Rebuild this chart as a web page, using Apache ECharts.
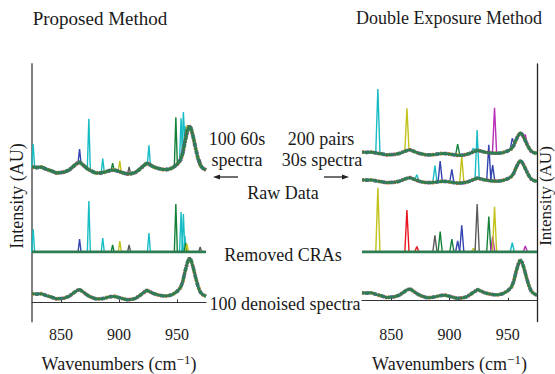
<!DOCTYPE html>
<html><head><meta charset="utf-8">
<script src="https://cdn.jsdelivr.net/npm/echarts@6/dist/echarts.min.js"></script>
<style>html,body{margin:0;padding:0;background:#fff}#c{width:555px;height:374px}</style>
</head><body><div id="c"></div>
<script>
// ---------- data ----------
const wavenumbers = [825,829,833,838,842,846,850,853,857,860,863,866,869,873,876,880,884,888,892,896,900,904,907,911,914,917,920,924,927,930,934,938,942,946,950,953,955,957,959,960.5,962,964,966,968,970,972,975];
const spectrum    = [10,9.5,10,7.5,6,4,4.5,5,7,10,13,15,12,8,6,4,4,5,6.5,7,5.5,4,3,3.5,4.5,7,10,14,12,10,8.5,7.5,7.5,9,12.5,17,24,36,46,51,49,40,29,19,12,9,7];
const tickLabels = [850, 900, 950];
// Proposed method: cosmic-ray spikes (position, height)
const leftSpikePos    = [826, 866, 874, 886, 894.5, 900.7, 908.7, 925.8, 949, 953.5, 955.5, 956.8, 957.5, 958.5, 970];
const leftSpikeHeight = [23, 13, 51, 14, 7, 11, 7, 19, 48, 40, 38, 16, 9, 8, 5];
// Double exposure method: spikes (position, height, which raw trace: 0 upper, 1 lower)
const rightSpikePos    = [838.6, 863.5, 872, 887.5, 892, 902, 907, 910.5, 920.5, 923.7, 933.7, 937, 938.6, 953.8, 965];
const rightSpikeHeight = [139, 91, 12, 36, 44, 28, 24, 58, 8, 104, 77, 34, 98, 20, 13];
const rightSpikeRow    = [0, 0, 1, 1, 1, 1, 0, 1, 0, 1, 1, 1, 0, 0, 0];

// ---------- styles ----------
const C = {cyan:'#17bcc4', blue:'#3344b0', green:'#14803a', yellow:'#c2c21a', gray:'#5a5a5a', red:'#e8141e', magenta:'#b82fb8'};
const leftSpikeColors = [C.cyan,C.blue,C.cyan,C.cyan,C.green,C.yellow,C.gray,C.cyan,C.green,C.cyan,C.cyan,C.cyan,C.green,C.yellow,C.gray];
const rightRawColors  = [C.cyan,C.yellow,C.cyan,C.cyan,C.blue,C.blue,C.green,C.yellow,C.cyan,C.cyan,C.blue,C.blue,C.magenta,C.blue,C.magenta];
const rightCraColors  = [C.yellow,C.red,C.red,C.gray,C.green,C.green,C.blue,C.blue,C.yellow,C.gray,C.green,C.magenta,C.yellow,C.cyan,C.magenta];
const FONT = 'Liberation Serif';
const TXT = '#1a1a1a';
const MAIN = '#2f7b52';

function interp(x){
  for(let i=0;i<wavenumbers.length-1;i++){
    if(x>=wavenumbers[i] && x<=wavenumbers[i+1]){
      const t=(x-wavenumbers[i])/(wavenumbers[i+1]-wavenumbers[i]);
      return spectrum[i]+t*(spectrum[i+1]-spectrum[i]);
    }
  }
  return x<wavenumbers[0]?spectrum[0]:spectrum[spectrum.length-1];
}
const specData = wavenumbers.map((w,i)=>[w,spectrum[i]]);

const series=[];
function spectrumLayers(idx, width){
  const under=[[C.red,[2,6],0],[C.blue,[2,6],3],[C.yellow,[2,7],1],[C.magenta,[1,8],5],[C.gray,[2,6],5]];
  under.forEach(u=>series.push({type:'line',xAxisIndex:idx,yAxisIndex:idx,data:specData,symbol:'none',silent:true,z:3,
    lineStyle:{color:u[0],width:width+0.9,type:u[1],dashOffset:u[2],opacity:0.8}}));
  series.push({type:'line',xAxisIndex:idx,yAxisIndex:idx,data:specData,symbol:'none',silent:true,z:4,
    lineStyle:{color:MAIN,width:width}});
}
function spike(idx,p,h,color,hw,onSpectrum){
  const b1=onSpectrum?interp(p-hw):0, b2=onSpectrum?interp(p+hw):0, top=(onSpectrum?interp(p):0)+h;
  series.push({type:'line',xAxisIndex:idx,yAxisIndex:idx,data:[[p-hw,b1],[p,top],[p+hw,b2]],symbol:'none',silent:true,z:2,
    lineStyle:{color:color,width:1.4}});
}
// left raw (grid 0)
leftSpikePos.forEach((p,i)=>spike(0,p,leftSpikeHeight[i],leftSpikeColors[i],1.3,true));
spectrumLayers(0,3);
// left CRA (grid 1)
leftSpikePos.forEach((p,i)=>spike(1,p,leftSpikeHeight[i],leftSpikeColors[i],1.3,false));
series.push({type:'line',xAxisIndex:1,yAxisIndex:1,data:wavenumbers.map(w=>[w,0]),symbol:'none',silent:true,z:5,lineStyle:{color:MAIN,width:3}});
// left denoised (grid 2)
spectrumLayers(2,2.8);
// right raw upper (grid 3) and lower (grid 4)
rightSpikePos.forEach((p,i)=>spike(rightSpikeRow[i]===0?3:4,p,rightSpikeHeight[i],rightRawColors[i],1.8,true));
spectrumLayers(3,2.8);
spectrumLayers(4,2.8);
// right CRA (grid 5)
rightSpikePos.forEach((p,i)=>spike(5,p,rightSpikeHeight[i],rightCraColors[i],1.8,false));
series.push({type:'line',xAxisIndex:5,yAxisIndex:5,data:wavenumbers.map(w=>[w,0]),symbol:'none',silent:true,z:5,lineStyle:{color:MAIN,width:3}});
// right denoised (grid 6)
spectrumLayers(6,2.8);

const L={left:32,width:174}, R={left:362,width:175};
const grids=[
  {...L,top:64,height:121},{...L,top:185,height:67},{...L,top:252,height:80},
  {...R,top:64,height:121},{...R,top:64,height:121},{...R,top:185,height:67},{...R,top:252,height:80}
];
const yr=[[-8,113],[0,67],[-22,58],[-61,200],[-1,260],[0,145],[-26,61]];
const xAxes=grids.map((g,i)=>{
  const bottom=(i===2||i===6);
  return {type:'value',gridIndex:i,min:825,max:975,splitLine:{show:false},
    axisLine:{show:bottom,lineStyle:{color:'#333',width:1.2}},
    axisTick:{show:bottom,inside:true,length:3,customValues:tickLabels,lineStyle:{color:'#333'}},
    axisLabel:{show:bottom,customValues:tickLabels,fontFamily:FONT,fontSize:16,color:TXT,margin:5},
    name:bottom?'Wavenumbers (cm{sup|−1})':'',nameLocation:'middle',nameGap:31,
    nameTextStyle:{fontFamily:FONT,fontSize:18,color:TXT,rich:{sup:{fontFamily:FONT,fontSize:13,verticalAlign:'bottom',padding:[0,0,10,0],color:TXT}}}};
});
const yAxes=grids.map((g,i)=>{
  const left=i<3, showLine=(i!==4);
  return {type:'value',gridIndex:i,min:yr[i][0],max:yr[i][1],position:left?'left':'right',
    splitLine:{show:false},axisTick:{show:false},axisLabel:{show:false},
    axisLine:{show:showLine,onZero:false,lineStyle:{color:left?'#808080':'#222',width:left?2:1.3}}};
});
function txt(x,y,s,extra,size){return Object.assign({type:'text',x:x,y:y,style:{text:s,fontFamily:FONT,fontSize:size||18,fill:TXT,align:'center',verticalAlign:'middle'},z:100},extra||{});}
const graphic=[
  txt(100,18,'Proposed Method',null,19),
  txt(449,18,'Double Exposure Method'),
  txt(17,196,'Intensity (AU)',{rotation:Math.PI/2}),
  txt(545,196,'Intensity (AU)',{rotation:Math.PI/2},17),
  txt(237,139,'100 60s'),
  txt(237,160,'spectra'),
  txt(321,139,'200 pairs'),
  txt(322,160,'30s spectra'),
  txt(283,193,'Raw Data'),
  txt(283,255,'Removed CRAs'),
  txt(285,304,'100 denoised spectra'),
  {type:'line',shape:{x1:238,y1:177,x2:217,y2:177},style:{stroke:'#222',lineWidth:1.3},z:100},
  {type:'polygon',shape:{points:[[213,177],[220,174.5],[220,179.5]]},style:{fill:'#222'},z:100},
  {type:'line',shape:{x1:324,y1:177,x2:345,y2:177},style:{stroke:'#222',lineWidth:1.3},z:100},
  {type:'polygon',shape:{points:[[349,177],[342,174.5],[342,179.5]]},style:{fill:'#222'},z:100}
];
const chart=echarts.init(document.getElementById('c'),null,{renderer:'svg'});
chart.setOption({animation:false,backgroundColor:'#fff',grid:grids,xAxis:xAxes,yAxis:yAxes,series:series,graphic:graphic});
</script></body></html>
